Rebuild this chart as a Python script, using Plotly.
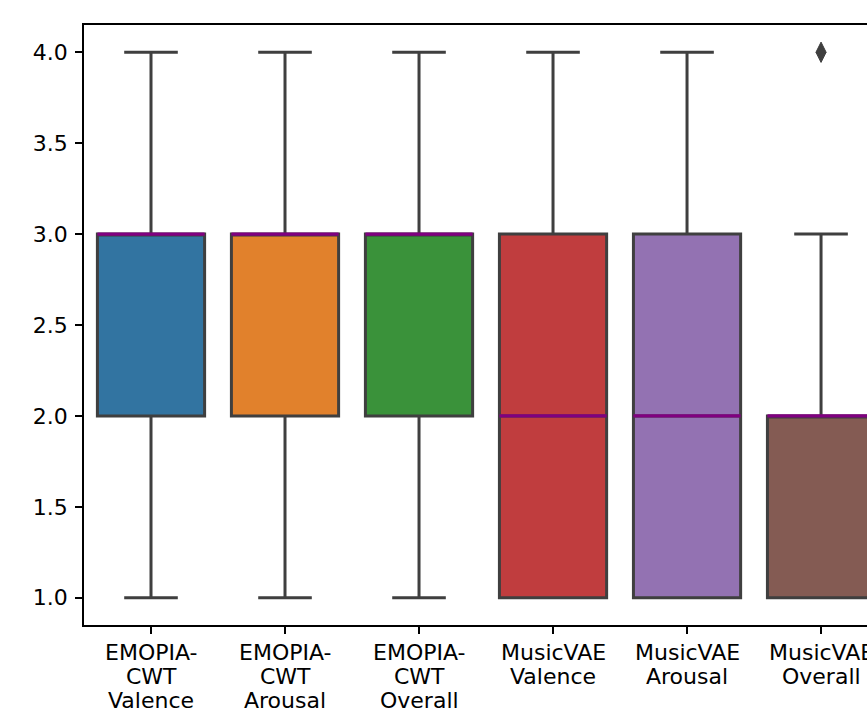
import plotly.graph_objects as go

# Rating summaries per model / attribute
categories = [["EMOPIA-", "CWT", "Valence"], ["EMOPIA-", "CWT", "Arousal"], ["EMOPIA-", "CWT", "Overall"],
              ["MusicVAE", "Valence"], ["MusicVAE", "Arousal"], ["MusicVAE", "Overall"]]
q1 = [2.0, 2.0, 2.0, 1.0, 1.0, 1.0]
median = [3.0, 3.0, 3.0, 2.0, 2.0, 2.0]
q3 = [3.0, 3.0, 3.0, 3.0, 3.0, 2.0]
lower_whisker = [1.0, 1.0, 1.0, 1.0, 1.0, 1.0]
upper_whisker = [4.0, 4.0, 4.0, 4.0, 4.0, 3.0]
outlier_pos = [5]
outlier_val = [4.0]
y_ticks = [1.0, 1.5, 2.0, 2.5, 3.0, 3.5, 4.0]

colors = ["#3274a1", "#e1812c", "#3a923a", "#c03d3e", "#9372b2", "#845b53"]
edge = "#3f3f3f"
box_w = 0.8

fig = go.Figure()
positions = list(range(len(categories)))
for i in positions:
    fig.add_trace(go.Box(
        x=[i], q1=[q1[i]], median=[median[i]], q3=[q3[i]],
        lowerfence=[lower_whisker[i]], upperfence=[upper_whisker[i]],
        width=box_w, whiskerwidth=0.5,
        fillcolor=colors[i], line=dict(color=edge, width=3),
        boxpoints=False, showlegend=False, hoverinfo="skip",
    ))

# purple median lines drawn over each box
mx, my = [], []
for i in positions:
    mx += [i - box_w / 2, i + box_w / 2, None]
    my += [median[i], median[i], None]
fig.add_trace(go.Scatter(x=mx, y=my, mode="lines",
                         line=dict(color="#800080", width=3.2),
                         showlegend=False, hoverinfo="skip"))

# fliers
fig.add_trace(go.Scatter(x=outlier_pos, y=outlier_val, mode="markers",
                         marker=dict(symbol="diamond-tall", size=14.5, color=edge,
                                     line=dict(width=1, color=edge)),
                         showlegend=False, hoverinfo="skip"))

font = dict(family="DejaVu Sans", size=22, color="black")

# multi-line category labels under each tick, with tight line spacing
for i, lines in enumerate(categories):
    for k, txt in enumerate(lines):
        fig.add_annotation(x=i, xref="x", y=0, yref="paper", text=txt, showarrow=False,
                           xanchor="center", yanchor="middle", yshift=-(27 + 24 * k),
                           font=font)

fig.update_layout(
    width=867, height=708,
    margin=dict(l=84, r=0, t=25, b=83),
    paper_bgcolor="white", plot_bgcolor="white",
    font=font,
    xaxis=dict(range=[-0.5, 5.343], tickmode="array", tickvals=positions, showticklabels=False,
               showgrid=False, zeroline=False, showline=True, linecolor="black", linewidth=1.7,
               mirror=True, ticks="outside", ticklen=7, tickwidth=1.7, tickcolor="black",
               automargin=False),
    yaxis=dict(range=[0.85, 4.15], tickmode="array", tickvals=y_ticks,
               ticktext=[f"{v:.1f}" for v in y_ticks],
               showgrid=False, zeroline=False, showline=True, linecolor="black", linewidth=1.7,
               mirror=False, ticks="outside", ticklen=7, tickwidth=1.7, tickcolor="black",
               ticklabelstandoff=3, automargin=False, tickfont=font),
)

fig.write_html("out.html")
